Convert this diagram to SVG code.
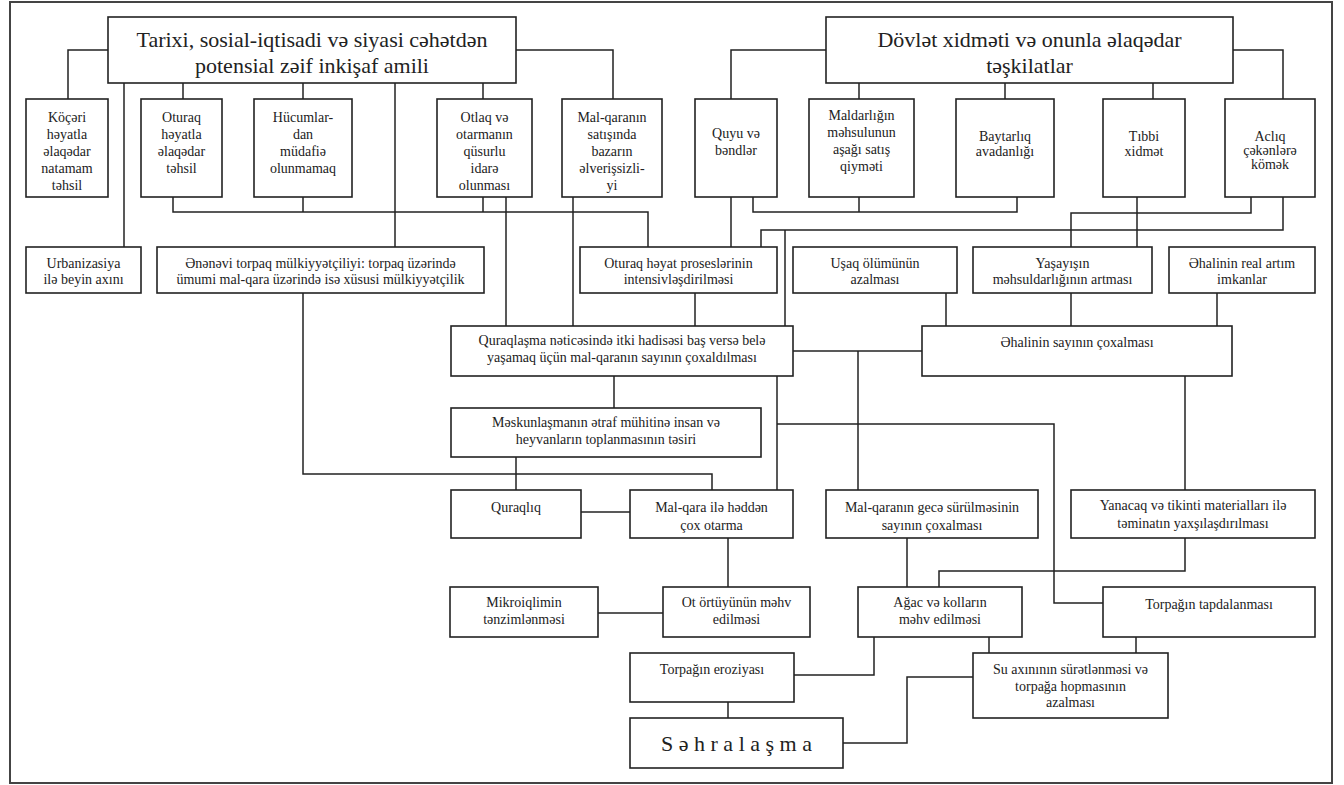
<svg xmlns="http://www.w3.org/2000/svg" width="1344" height="785" viewBox="0 0 1344 785">
<style>
.b{fill:#fff;stroke:#222;stroke-width:1.6}
.t{font-family:"Liberation Serif","DejaVu Serif",serif;font-size:14px;text-anchor:middle;fill:#222}
.h{font-size:22px}
.s{font-size:22px}
.c{fill:none;stroke:#222;stroke-width:1.5}
</style>
<rect x="0" y="0" width="1344" height="785" fill="#fff"/>
<rect x="10" y="2" width="1322" height="781" fill="none" stroke="#444" stroke-width="2"/>
<g id="connectors">
<path class="c" d="M108,50 H68 V99"/>
<path class="c" d="M124,83 V247"/>
<path class="c" d="M183,83 V99"/>
<path class="c" d="M303,83 V99"/>
<path class="c" d="M395,83 V247"/>
<path class="c" d="M483,83 V99"/>
<path class="c" d="M516,50 H613 V99"/>
<path class="c" d="M173,197 V212 H648 V247"/>
<path class="c" d="M303,197 V212"/>
<path class="c" d="M483,197 V212"/>
<path class="c" d="M506,197 V326"/>
<path class="c" d="M573,197 V326"/>
<path class="c" d="M826,50 H731 V99"/>
<path class="c" d="M859,83 V99"/>
<path class="c" d="M1005,83 V99"/>
<path class="c" d="M1153,83 V99"/>
<path class="c" d="M1233,50 H1283 V99"/>
<path class="c" d="M731,197 V247"/>
<path class="c" d="M753,197 V212 H1017 V197"/>
<path class="c" d="M859,197 V212"/>
<path class="c" d="M1137,197 V247"/>
<path class="c" d="M1251,197 V213 H1071 V247"/>
<path class="c" d="M1283,197 V230 H761 V247"/>
<path class="c" d="M785,230 V326"/>
<path class="c" d="M695,293 V326"/>
<path class="c" d="M946,293 V326"/>
<path class="c" d="M1071,293 V326"/>
<path class="c" d="M1217,293 V326"/>
<path class="c" d="M793,351 H922"/>
<path class="c" d="M858,351 V490"/>
<path class="c" d="M777,376 V490"/>
<path class="c" d="M777,424 H1054 V603 H1103"/>
<path class="c" d="M614,376 V408"/>
<path class="c" d="M516,457 V490"/>
<path class="c" d="M303,293 V474 H712 V490"/>
<path class="c" d="M1185,376 V490"/>
<path class="c" d="M581,512 H630"/>
<path class="c" d="M728,538 V587"/>
<path class="c" d="M907,538 V587"/>
<path class="c" d="M1185,538 V571 H939 V587"/>
<path class="c" d="M598,613 H663"/>
<path class="c" d="M1136,637 V653"/>
<path class="c" d="M989,637 V653"/>
<path class="c" d="M874,637 V675 H794"/>
<path class="c" d="M728,702 V718"/>
<path class="c" d="M973,677 H907 V743 H843"/>
</g>
<g id="n-title1"><rect class="b" x="108" y="17" width="408" height="66"/><text class="t h" x="312" y="47">Tarixi, sosial-iqtisadi və siyasi cəhətdən</text><text class="t h" x="312" y="73">potensial zəif inkişaf amili</text></g>
<g id="n-title2"><rect class="b" x="826" y="17" width="407" height="66"/><text class="t h" x="1029.5" y="47">Dövlət xidməti və onunla əlaqədar</text><text class="t h" x="1029.5" y="73">təşkilatlar</text></g>
<g id="n-kocari"><rect class="b" x="26" y="99" width="82" height="98"/><text class="t" x="67" y="122">Köçəri</text><text class="t" x="67" y="139">həyatla</text><text class="t" x="67" y="156">əlaqədar</text><text class="t" x="67" y="173">natamam</text><text class="t" x="67" y="190">təhsil</text></g>
<g id="n-oturaq"><rect class="b" x="141" y="99" width="81" height="98"/><text class="t" x="181.5" y="122">Oturaq</text><text class="t" x="181.5" y="139">həyatla</text><text class="t" x="181.5" y="156">əlaqədar</text><text class="t" x="181.5" y="173">təhsil</text></g>
<g id="n-hucum"><rect class="b" x="254" y="99" width="98" height="98"/><text class="t" x="303" y="122">Hücumlar-</text><text class="t" x="303" y="139">dan</text><text class="t" x="303" y="156">müdafiə</text><text class="t" x="303" y="173">olunmamaq</text></g>
<g id="n-otlaq"><rect class="b" x="437" y="99" width="95" height="98"/><text class="t" x="484.5" y="122">Otlaq və</text><text class="t" x="484.5" y="139">otarmanın</text><text class="t" x="484.5" y="156">qüsurlu</text><text class="t" x="484.5" y="173">idarə</text><text class="t" x="484.5" y="190">olunması</text></g>
<g id="n-bazar"><rect class="b" x="562" y="99" width="100" height="98"/><text class="t" x="612" y="122">Mal-qaranın</text><text class="t" x="612" y="139">satışında</text><text class="t" x="612" y="156">bazarın</text><text class="t" x="612" y="173">əlverişsizli-</text><text class="t" x="612" y="190">yi</text></g>
<g id="n-quyu"><rect class="b" x="695" y="99" width="82" height="98"/><text class="t" x="736" y="138">Quyu və</text><text class="t" x="736" y="155">bəndlər</text></g>
<g id="n-maldar"><rect class="b" x="809" y="99" width="105" height="98"/><text class="t" x="861.5" y="120">Maldarlığın</text><text class="t" x="861.5" y="137">məhsulunun</text><text class="t" x="861.5" y="154">aşağı satış</text><text class="t" x="861.5" y="171">qiyməti</text></g>
<g id="n-baytar"><rect class="b" x="956" y="99" width="98" height="98"/><text class="t" x="1005" y="141">Baytarlıq</text><text class="t" x="1005" y="156">avadanlığı</text></g>
<g id="n-tibbi"><rect class="b" x="1103" y="99" width="82" height="98"/><text class="t" x="1144" y="141">Tıbbi</text><text class="t" x="1144" y="156">xidmət</text></g>
<g id="n-aclig"><rect class="b" x="1225" y="99" width="90" height="98"/><text class="t" x="1270" y="141">Aclıq</text><text class="t" x="1270" y="155">çəkənlərə</text><text class="t" x="1270" y="169">kömək</text></g>
<g id="n-urban"><rect class="b" x="26" y="247" width="115" height="46"/><text class="t" x="83.5" y="268">Urbanizasiya</text><text class="t" x="83.5" y="284">ilə beyin axını</text></g>
<g id="n-enenevi"><rect class="b" x="157" y="247" width="327" height="46"/><text class="t" x="320.5" y="268">Ənənəvi torpaq mülkiyyətçiliyi: torpaq üzərində</text><text class="t" x="320.5" y="284">ümumi mal-qara üzərində isə xüsusi mülkiyyətçilik</text></g>
<g id="n-oturaq-heyat"><rect class="b" x="580" y="247" width="197" height="46"/><text class="t" x="678.5" y="268">Oturaq həyat proseslərinin</text><text class="t" x="678.5" y="284">intensivləşdirilməsi</text></g>
<g id="n-usaq"><rect class="b" x="793" y="247" width="164" height="46"/><text class="t" x="875" y="268">Uşaq ölümünün</text><text class="t" x="875" y="284">azalması</text></g>
<g id="n-yasayis"><rect class="b" x="973" y="247" width="179" height="46"/><text class="t" x="1062.5" y="268">Yaşayışın</text><text class="t" x="1062.5" y="284">məhsuldarlığının artması</text></g>
<g id="n-real"><rect class="b" x="1169" y="247" width="146" height="46"/><text class="t" x="1242" y="268">Əhalinin real artım</text><text class="t" x="1242" y="284">imkanlar</text></g>
<g id="n-quraqlasma"><rect class="b" x="451" y="326" width="342" height="50"/><text class="t" x="622" y="345">Quraqlaşma nəticəsində itki hadisəsi baş versə belə</text><text class="t" x="622" y="362">yaşamaq üçün mal-qaranın sayının çoxaldılması</text></g>
<g id="n-ehali"><rect class="b" x="922" y="326" width="310" height="50"/><text class="t" x="1077" y="347">Əhalinin sayının çoxalması</text></g>
<g id="n-meskun"><rect class="b" x="451" y="408" width="310" height="49"/><text class="t" x="606" y="427">Məskunlaşmanın ətraf mühitinə insan və</text><text class="t" x="606" y="444">heyvanların toplanmasının təsiri</text></g>
<g id="n-quraqliq"><rect class="b" x="451" y="490" width="130" height="48"/><text class="t" x="516" y="512">Quraqlıq</text></g>
<g id="n-otarma"><rect class="b" x="630" y="490" width="163" height="48"/><text class="t" x="711.5" y="512">Mal-qara ilə həddən</text><text class="t" x="711.5" y="530">çox otarma</text></g>
<g id="n-gece"><rect class="b" x="826" y="490" width="212" height="48"/><text class="t" x="932" y="512">Mal-qaranın gecə sürülməsinin</text><text class="t" x="932" y="530">sayının çoxalması</text></g>
<g id="n-yanacaq"><rect class="b" x="1071" y="490" width="244" height="48"/><text class="t" x="1193" y="510">Yanacaq və tikinti materialları ilə</text><text class="t" x="1193" y="528">təminatın yaxşılaşdırılması</text></g>
<g id="n-mikro"><rect class="b" x="450" y="587" width="148" height="50"/><text class="t" x="524" y="607">Mikroiqlimin</text><text class="t" x="524" y="624">tənzimlənməsi</text></g>
<g id="n-ot"><rect class="b" x="663" y="587" width="147" height="50"/><text class="t" x="736.5" y="607">Ot örtüyünün məhv</text><text class="t" x="736.5" y="624">edilməsi</text></g>
<g id="n-agac"><rect class="b" x="858" y="587" width="164" height="50"/><text class="t" x="940" y="607">Ağac və kolların</text><text class="t" x="940" y="624">məhv edilməsi</text></g>
<g id="n-tapdalanma"><rect class="b" x="1103" y="587" width="212" height="50"/><text class="t" x="1209" y="609">Torpağın tapdalanması</text></g>
<g id="n-eroziya"><rect class="b" x="630" y="653" width="164" height="49"/><text class="t" x="712" y="674">Torpağın eroziyası</text></g>
<g id="n-su"><rect class="b" x="973" y="653" width="195" height="65"/><text class="t" x="1070.5" y="674">Su axınının sürətlənməsi və</text><text class="t" x="1070.5" y="691">torpağa hopmasının</text><text class="t" x="1070.5" y="707">azalması</text></g>
<g id="n-sehra"><rect class="b" x="630" y="718" width="213" height="50"/><text class="t s" x="736.5" y="751">S ə h r a l a ş m a</text></g>
</svg>
